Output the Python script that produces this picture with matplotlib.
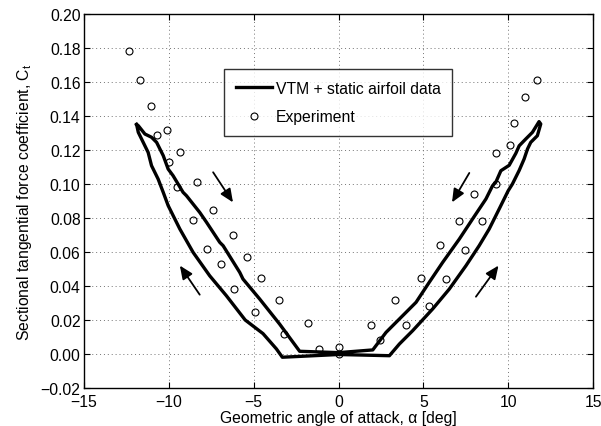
import numpy as np
import matplotlib.pyplot as plt

plt.rcParams['font.family'] = ['Liberation Sans', 'DejaVu Sans']
plt.rcParams['mathtext.default'] = 'regular'

# experiment, angle of attack [deg] and Ct
exp_alpha = [-12.35, -11.72, -11.06, -10.72, -10.1, -9.37, -9.98, -8.35, -9.53, -7.41,
             -8.59, -6.22, -7.73, -5.37, -6.94, -4.55, -6.16, -3.53, -4.9, -1.82,
             -3.24, -1.14, 0.0, 0.0,
             1.92, 2.47, 3.31, 4.0, 4.88, 5.33, 5.96, 6.35, 7.12, 7.47,
             8.0, 8.43, 9.31, 9.31, 10.08, 10.33, 11.02, 11.67]
exp_ct = [0.178, 0.161, 0.146, 0.129, 0.132, 0.119, 0.113, 0.101, 0.098, 0.085,
          0.079, 0.070, 0.062, 0.057, 0.053, 0.045, 0.038, 0.032, 0.025, 0.018,
          0.012, 0.003, 0.004, 0.0,
          0.017, 0.008, 0.032, 0.017, 0.045, 0.028, 0.064, 0.044, 0.078, 0.061,
          0.094, 0.078, 0.100, 0.118, 0.123, 0.136, 0.151, 0.161]

# VTM loop: upper branch (left tip -> right tip), then lower branch back
vtm_alpha = [-11.9, -11.8, -11.41, -11.02, -10.72, -10.33, -10.04, -9.75, -9.16, -8.96,
             -8.18, -7.78, -7.0, -6.8, -5.82, -5.63, -4.65, -3.47, -2.29, 0.0,
             2.02, 2.8, 3.59, 4.57, 5.35, 6.14, 7.12, 7.9, 8.69, 9.08,
             9.27, 9.57, 10.06, 10.45, 10.65, 11.04, 11.43, 11.82,
             11.92, 11.72, 11.33, 11.14, 10.94, 10.65, 10.25, 10.0, 9.47, 8.88,
             8.29, 7.51, 6.53, 5.55, 4.37, 3.59, 3.0, 0.0, -3.31, -3.66,
             -4.45, -5.5, -6.61, -7.59, -8.57, -9.35, -10.04, -10.33, -10.63, -11.02,
             -11.22, -11.51, -11.8, -11.9]
vtm_ct = [0.135, 0.1343, 0.1294, 0.1275, 0.1245, 0.1167, 0.1088, 0.1049, 0.0951, 0.0931,
          0.0833, 0.0775, 0.0657, 0.0637, 0.048, 0.0441, 0.0324, 0.0176, 0.0016, 0.0008,
          0.0024, 0.0127, 0.0206, 0.0304, 0.0422, 0.0539, 0.0676, 0.0794, 0.0912, 0.099,
          0.101, 0.1078, 0.111, 0.118, 0.1225, 0.1265, 0.1304, 0.1367,
          0.1353, 0.1284, 0.1245, 0.1206, 0.1147, 0.108, 0.1, 0.096, 0.0853, 0.0735,
          0.0637, 0.0519, 0.0382, 0.0265, 0.0137, 0.0059, -0.001, -0.0003, -0.0019, 0.003,
          0.012, 0.02, 0.0343, 0.046, 0.0598, 0.0735, 0.0873, 0.0951, 0.1029, 0.1108,
          0.1186, 0.1245, 0.1304, 0.135]

# arrows: (start, end)
arrows = [((-7.39, 0.1069), (-6.22, 0.0892)),
          ((-8.18, 0.0349), (-9.35, 0.052)),
          ((7.71, 0.1065), (6.69, 0.0892)),
          ((8.1, 0.0337), (9.43, 0.052))]

xticks = np.arange(-15, 16, 5)
yticks = np.arange(-0.02, 0.201, 0.02)

fs = 11.3

fig = plt.figure(figsize=(6.01, 4.27), dpi=100)
ax = fig.add_axes([84/601, 1-389/427, 509/601, 374/427])

ax.plot(vtm_alpha, vtm_ct, 'k-', lw=2.4, solid_joinstyle='round',
        label='VTM + static airfoil data')
ax.plot(exp_alpha, exp_ct, 'ko', mfc='none', ms=5, mew=0.8, label='Experiment')

for (x0, y0), (x1, y1) in arrows:
    ax.annotate('', xy=(x1, y1), xytext=(x0, y0),
                arrowprops=dict(arrowstyle='-|>,head_length=0.8,head_width=0.35',
                                color='k', lw=1.3, shrinkA=0, shrinkB=0))

ax.set_xlim(-15, 15)
ax.set_ylim(-0.02, 0.20)
ax.set_xticks(xticks)
ax.set_xticklabels([str(v).replace('-', '\u2212') for v in xticks])
ax.set_yticks(yticks)
ax.set_yticklabels([('%.2f' % (0.0 if abs(v) < 1e-9 else v)).replace('-', '\u2212')
                    for v in yticks])
ax.tick_params(direction='in', top=True, right=True, labelsize=fs, length=4)
ax.tick_params(axis='x', pad=4.5)
ax.tick_params(axis='y', pad=2.5)
ax.grid(True, linestyle=(0, (1, 3)), color='0.45', lw=0.7)
for s in ax.spines.values():
    s.set_linewidth(1.0)

ax.set_xlabel('Geometric angle of attack, \u03b1 [deg]', fontsize=fs, labelpad=0.5)
ax.set_ylabel(r'Sectional tangential force coefficient, C$_t$', fontsize=fs, labelpad=5)

leg = ax.legend(loc='upper left', bbox_to_anchor=(0.275, 0.853), fontsize=fs,
                frameon=True, fancybox=False, edgecolor='k', handlelength=2.3,
                handletextpad=0.25, borderpad=0.75, labelspacing=0.85,
                borderaxespad=0)
leg.get_frame().set_linewidth(1.0)

fig.savefig('out.png', dpi=100)
